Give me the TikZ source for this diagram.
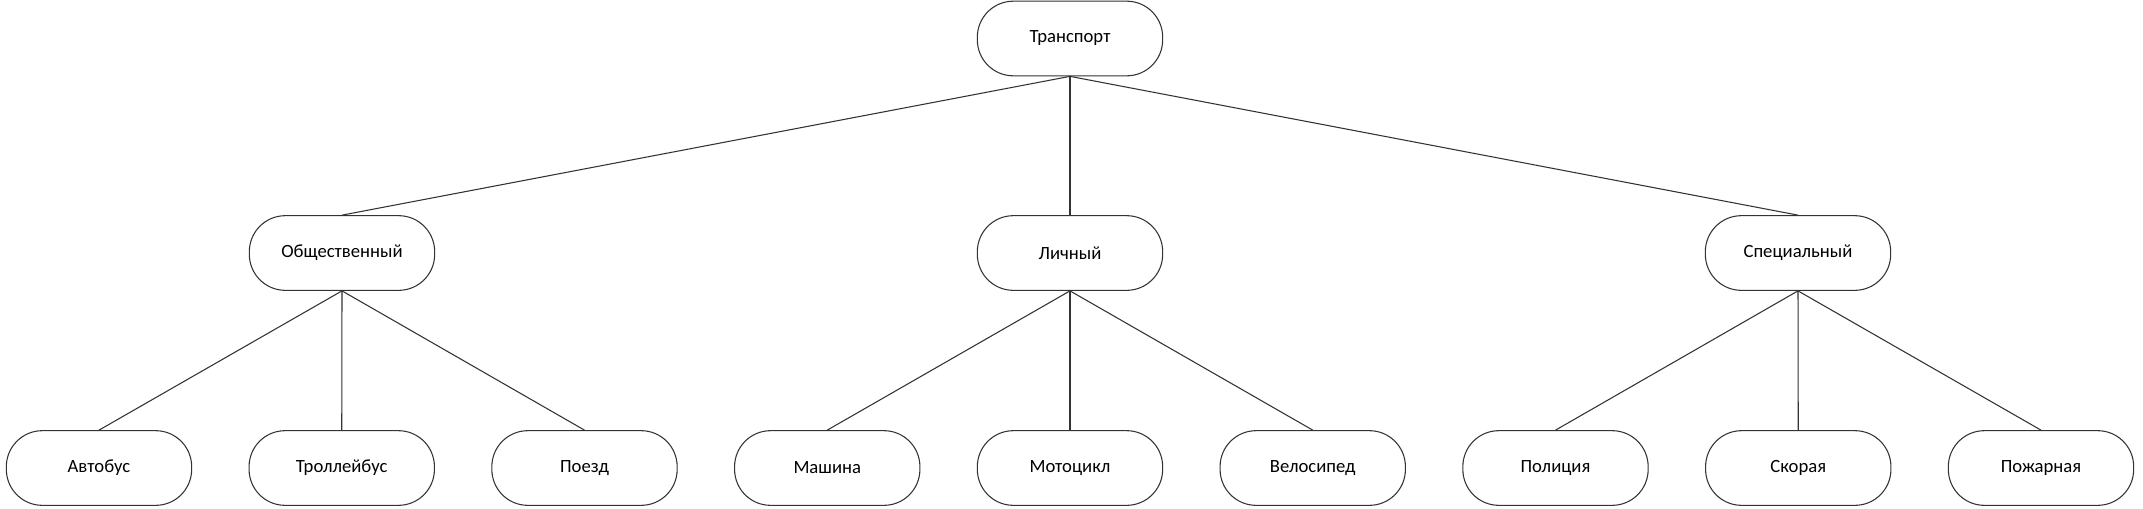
\documentclass[tikz,border=0pt]{standalone}
\usepackage{fontspec}
\setmainfont{Carlito}
\usepackage{tikz}

\begin{document}
\begin{tikzpicture}[x=0.75pt,y=-0.75pt,
  item/.style={draw=black!80,line width=0.8pt,rounded corners=27pt,
    minimum width=139pt,minimum height=56pt,inner sep=0pt,font=\fontsize{14}{16}\selectfont},
  link/.style={draw=black!80,line width=0.8pt}]
\useasboundingbox (0,0) rectangle (2143,508);
% root
\node[item] (transport) at (1070,38.5) {Транспорт};
% second level
\node[item] (public) at (342,253) {Общественный};
\node[item] (private) at (1070,253) {Личный};
\node[item] (special) at (1798,253) {Специальный};
% leaves
\node[item] (bus) at (99,468) {Автобус};
\node[item] (trolley) at (341.75,468) {Троллейбус};
\node[item] (train) at (584.5,468) {Поезд};
\node[item] (car) at (827.25,468) {Машина};
\node[item] (moto) at (1070,468) {Мотоцикл};
\node[item] (bike) at (1312.75,468) {Велосипед};
\node[item] (police) at (1555.5,468) {Полиция};
\node[item] (ambulance) at (1798.25,468) {Скорая};
\node[item] (fire) at (2041,468) {Пожарная};
% edges
\foreach \n in {public,private,special}
  \draw[link] (transport.south) -- (\n.north);
\foreach \n in {bus,trolley,train}
  \draw[link] (public.south) -- (\n.north);
\foreach \n in {car,moto,bike}
  \draw[link] (private.south) -- (\n.north);
\foreach \n in {police,ambulance,fire}
  \draw[link] (special.south) -- (\n.north);
\end{tikzpicture}
\end{document}
